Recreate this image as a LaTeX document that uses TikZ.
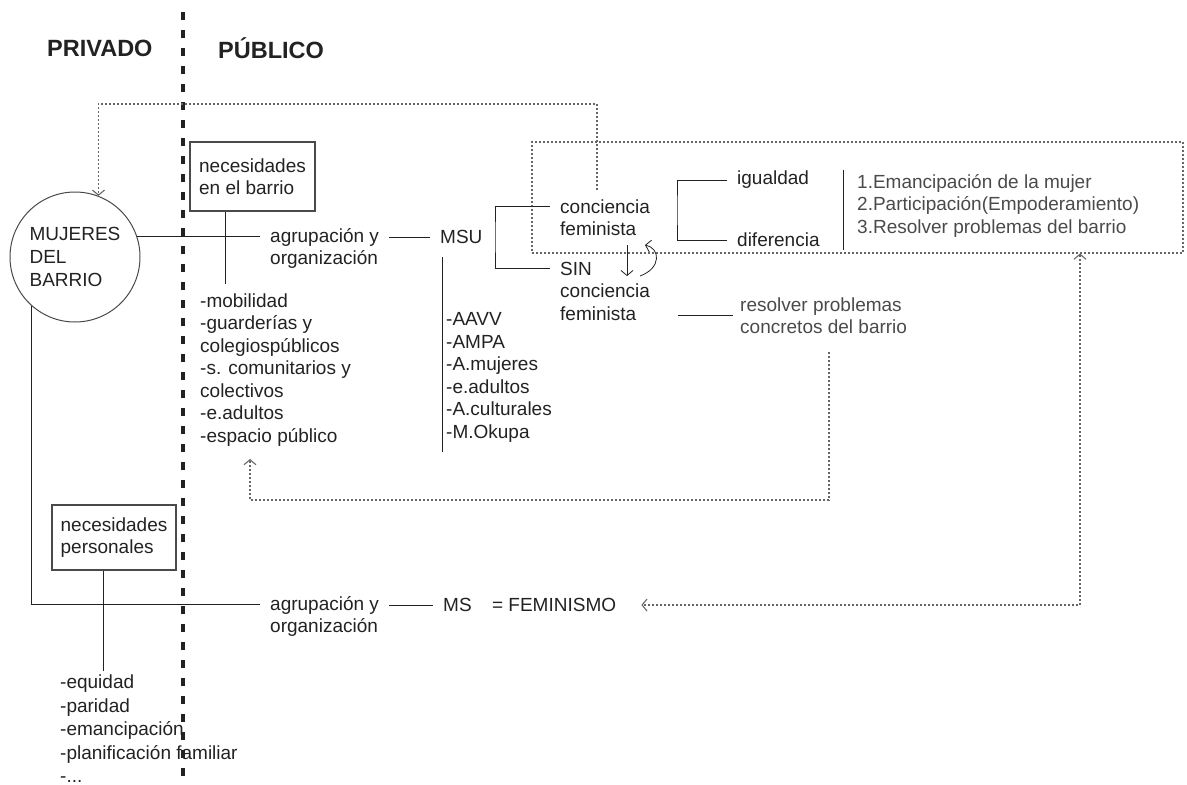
\documentclass[tikz,border=0pt]{standalone}
\usepackage{fontspec}
\setmainfont{Liberation Sans}
\usetikzlibrary{arrows.meta,positioning,calc}
\definecolor{ink}{HTML}{222222}
\definecolor{soft}{HTML}{4A4A4A}
\definecolor{dots}{HTML}{666666}
\tikzset{
    %Define standard arrow tip
    >={Straight Barb[length=5pt,width=12pt]},
    %Define style for texts
    txt/.style={
           inner xsep=10pt,
           inner ysep=0pt,
           align=left,
           anchor=west,
           text=ink,
           font=\fontsize{19}{22.5}\selectfont},
    cabecera/.style={
           inner sep=0pt,
           anchor=west,
           text=ink,
           font=\fontsize{23.5}{26}\selectfont\bfseries},
    %Define style for boxes
    caja/.style={
           rectangle,
           draw=soft, line width=1.1pt,
           align=left,
           text=ink,
           font=\fontsize{19}{22.5}\selectfont},
    circulo/.style={
           circle,
           draw=soft, line width=1pt,
           minimum size=130pt,
           inner sep=0pt,
           align=left,
           text=ink,
           font=\fontsize{19}{23}\selectfont},
    % Define line styles
    liga/.style={
           draw=ink,
           line width=1pt},
    vuelta/.style={
           ->,
           draw=dots,
           line width=1.1pt,
           dash pattern=on 2pt off 2pt},
    cuadro/.style={
           rectangle,
           draw=dots,
           line width=1.1pt,
           dash pattern=on 2pt off 2pt},
    divisor/.style={
           draw=ink,
           line width=3.2pt,
           dash pattern=on 8pt off 10pt},
}
\begin{document}
\begin{tikzpicture}[x=1pt,y=-1pt]
\useasboundingbox (0,0) rectangle (1187,785);
 %headers
    \node[cabecera] (priv) at (47,48) {PRIVADO};
    \node[cabecera] (pub) at (218,48) {PÚBLICO};
    \draw[divisor] (183,12) -- (183,792);
 %nodes
    \node[circulo] (mujeres) at (75,257) {MUJERES\\DEL\\BARRIO};
    \node[caja, minimum width=125pt, minimum height=69pt] (nbar) at (252.5,176.5) {necesidades\\en el barrio};
    \node[txt] (agr1) at (260,248.5) {agrupación y\\organización};
    \node[txt] (msu) at (430,237) {MSU};
    \node[txt] (cf) at (550,217.5) {conciencia\\feminista};
    \node[txt] (sin) at (550,291) {SIN\\conciencia\\feminista};
    \node[txt] (igual) at (727,180) {igualdad};
    \node[txt] (dif) at (727,240) {diferencia};
    \node[txt, text=soft] (metas) at (847,205.5) {1.Emancipación de la mujer\\2.Participación(Empoderamiento)\\3.Resolver problemas del barrio};
    \node[cuadro, minimum width=651pt, minimum height=111pt] (fbox) at (857.5,197.5) {};
    \node[txt, text=soft] (rp) at (730,315.5) {resolver problemas\\concretos del barrio};
    \node[txt] (mob) at (190,370) {-mobilidad\\-guarderías y\\colegiospúblicos\\-s. comunitarios y\\colectivos\\-e.adultos\\-espacio público};
    \node[txt] (asoc) at (436,377.5) {-AAVV\\-AMPA\\-A.mujeres\\-e.adultos\\-A.culturales\\-M.Okupa};
    \node[caja, minimum width=124pt, minimum height=65pt] (nper) at (114,537.5) {necesidades\\personales};
    \node[txt, font=\fontsize{19}{23.5}\selectfont] (pers) at (50,729) {-equidad\\-paridad\\-emancipación\\-planificación familiar\\-...};
    \node[txt] (agr2) at (260,616.5) {agrupación y\\organización};
    \node[txt] (ms) at (433,605) {MS};
    \node[txt, right=0pt of ms] (fem) {= FEMINISMO};
 %helper points
    \coordinate (cfA) at ([yshift=11pt]cf.west);
    \coordinate (sinA) at ([yshift=23pt]sin.west);
    \coordinate (b1) at (495,237);
    \coordinate (b2) at (677,210);
    \coordinate (aA) at ([yshift=12pt]agr2.west);
    \coordinate (t0) at (597,190);
    \coordinate (t1) at (597,104);
    \coordinate (r1) at (829,500);
    \coordinate (r2) at (250,459);
    \coordinate (s1) at (1080,605);
    \coordinate (c1) at (627,245);
    \coordinate (c2) at (627,276);
    \coordinate (c3) at (640,276);
    \coordinate (c4) at (645,245);
 %edges
    \draw[liga] (mujeres.18) -- (mujeres.18 -| agr1.west);
    \draw[liga] ([xshift=36pt]nbar.south west) -- ++(0,72);
    \draw[liga] (msu.west -| agr1.east) -- (msu.west);
    \draw[liga] (cfA) -| (b1) |- (sinA);
    \draw[liga] ([xshift=12pt]msu.south west) ++(0,13) -- ++(0,195);
    \draw[liga] (igual.west) -| (b2) |- (dif.west);
    \draw[liga] ([xshift=-4pt]metas.west) ++(0,-35.5) -- ++(0,80);
    \draw[liga, shorten <=18pt] (sin.east |- rp.west) -- ([xshift=3pt]rp.west);
    \draw[liga, ->, line width=0.8pt] (c1) -- (c2);
    \draw[liga, ->, line width=0.8pt] (c3) .. controls (662,268) and (660,248) .. (c4);
    \draw[liga] (mujeres.228) |- (aA);
    \draw[liga] (ms.west -| agr2.east) -- (ms.west);
    \draw[liga] ([xshift=-11pt]nper.south) -- ++(0,100);
 %feedback loops
    \draw[vuelta] (t0) -- (t1) -| (mujeres.69);
    \draw[vuelta] ($(rp.south -| r1)+(0,18)$) -- (r1) -| (r2);
    \draw[vuelta, <->] (fbox.south -| s1) -- (s1) -- ($(fem.east |- s1)+(15,0)$);
\end{tikzpicture}
\end{document}
